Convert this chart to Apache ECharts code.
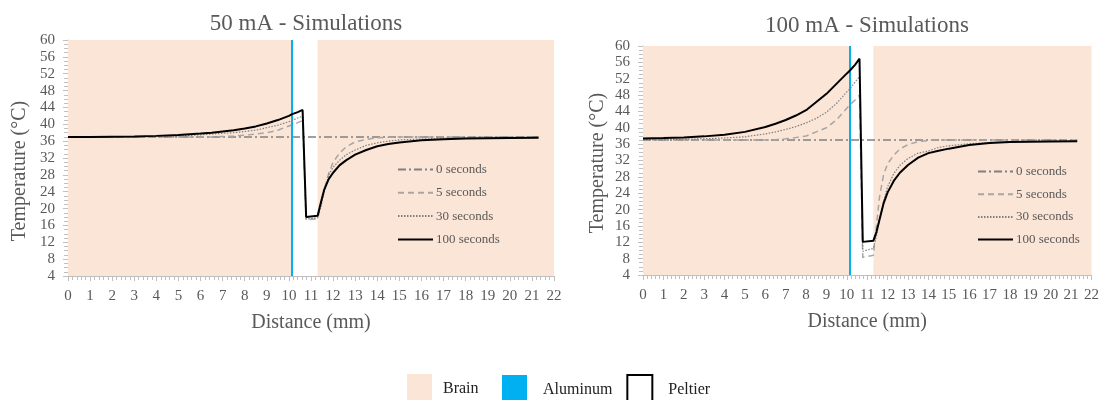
<!DOCTYPE html>
<html>
<head>
<meta charset="utf-8">
<script src="https://cdn.jsdelivr.net/npm/echarts@6/dist/echarts.min.js"></script>
<style>
html,body{margin:0;padding:0;background:#fff;}
#chart{width:1102px;height:400px;}
</style>
</head>
<body>
<div id="chart"></div>
<script>
// ---- data ----
const distance = [0, 1, 2, 3, 4, 5, 6, 6.5, 7, 7.5, 8, 8.5, 9, 9.5, 10, 10.15, 10.4, 10.62, 10.78, 11.3, 11.45, 11.6, 11.8, 12, 12.3, 12.6, 13, 13.5, 14, 14.5, 15, 16, 17, 18, 19, 20, 21.3];

const t50_0s   = [37,37,37,37,37,37,37,37,37,37,37,37,37,37,37,37,37,37,37,37,37,37,37,37,37,37,37,37,37,37,37,37,37,37,37,37,37];
const t50_5s   = [37,37,37,37,37,37,37,37,37.1,37.2,37.4,37.7,38.0,38.6,39.6,39.9,40.4,40.9,17.3,17.6,21.0,24.5,28.3,31.0,33.2,34.7,35.8,36.4,36.8,36.9,37,37,37,37,37,37,37];
const t50_30s  = [37,37,37,37.05,37.1,37.25,37.5,37.7,37.85,38.0,38.3,38.6,39.2,39.8,40.6,40.9,41.5,41.9,17.5,17.8,20.5,24.0,28.0,29.8,31.5,32.8,33.9,35.0,35.6,36.0,36.3,36.5,36.7,36.8,36.85,36.9,36.9];
const t50_100s = [37,37,37.05,37.1,37.25,37.45,37.8,38.0,38.3,38.6,39.0,39.5,40.2,41.0,42.0,42.4,42.9,43.4,18.0,18.3,21.5,24.5,27.0,28.5,30.3,31.5,32.8,33.9,34.8,35.3,35.7,36.2,36.45,36.6,36.7,36.75,36.8];

const t100_0s   = [37,37,37,37,37,37,37,37,37,37,37,37,37,37,37,37,37,37,37,37,37,37,37,37,37,37,37,37,37,37,37,37,37,37,37,37,37];
const t100_5s   = [37,37,37,37,37,37,37,37.1,37.3,37.6,38.0,39.0,40.0,42.0,44.8,45.6,46.8,48.0,8.3,8.8,16.0,23.0,28.5,31.2,33.3,34.8,35.9,36.6,36.9,37,37,37,37,37,37,37,37];
const t100_30s  = [37.1,37.1,37.2,37.3,37.5,37.8,38.5,39.0,39.6,40.3,41.2,42.3,43.8,46.0,48.8,49.5,51.2,52.5,9.8,10.5,13.5,17.5,22.0,25.6,28.8,30.8,32.5,33.8,34.3,35.2,35.6,36.1,36.4,36.6,36.7,36.75,36.8];
const t100_100s = [37.4,37.5,37.65,37.9,38.3,39.0,40.2,41.0,41.9,43.0,44.3,46.3,48.3,50.8,53.3,54.0,55.4,56.9,12.1,12.4,14.5,17.5,21.5,24.2,27.0,29.0,30.9,32.7,33.8,34.4,34.9,35.8,36.3,36.5,36.6,36.65,36.7];

const timeNames = ['0 seconds', '5 seconds', '30 seconds', '100 seconds'];
const brainZones = [[0, 10.15], [11.3, 22]];
const aluminumAt = 10.15;
const chartTitles = ['50 mA - Simulations', '100 mA - Simulations'];
const xAxisName = 'Distance (mm)';
const yAxisName = 'Temperature (°C)';

// ---- styles ----
const FONT = 'Liberation Serif';
const GRAY = '#595959';
const lineStyles = [
  {color: '#808080', width: 1.5, type: [8, 3, 2, 3]},
  {color: '#a6a6a6', width: 1.5, type: [6, 4]},
  {color: '#7f7f7f', width: 1.2, type: [1.5, 1.5]},
  {color: '#000000', width: 2, type: 'solid'}
];

function pairs(arr) { return distance.map((d, i) => [d, arr[i]]); }

const seriesSets = [[t50_0s, t50_5s, t50_30s, t50_100s], [t100_0s, t100_5s, t100_30s, t100_100s]];

const grids = [
  {left: 68, top: 40, width: 486, height: 236},
  {left: 643, top: 46, width: 451, height: 229}
];

function xAxisFor(i) {
  return {
    type: 'value', gridIndex: i, min: 0, max: 22, interval: 1,
    name: xAxisName, nameLocation: 'middle', nameGap: 37,
    nameTextStyle: {fontFamily: FONT, fontSize: 20, color: GRAY},
    axisLine: {show: true, lineStyle: {color: '#bfbfbf', width: 1}},
    axisTick: {show: true, length: 5, lineStyle: {color: '#bfbfbf'}},
    minorTick: {show: true, splitNumber: 5, length: 4, lineStyle: {color: '#bfbfbf'}},
    splitLine: {show: false},
    axisLabel: {fontFamily: FONT, fontSize: 15, color: GRAY, margin: 13}
  };
}
function yAxisFor(i) {
  return {
    type: 'value', gridIndex: i, min: 4, max: 60, interval: 4,
    axisLine: {show: true, lineStyle: {color: '#bfbfbf', width: 1}},
    axisTick: {show: true, length: 5, lineStyle: {color: '#bfbfbf'}},
    minorTick: {show: true, splitNumber: 4, length: 4, lineStyle: {color: '#bfbfbf'}},
    splitLine: {show: false},
    axisLabel: {fontFamily: FONT, fontSize: 15, color: GRAY, margin: 13}
  };
}

const series = [];
for (let g = 0; g < 2; g++) {
  series.push({
    name: 'Brain', type: 'line', xAxisIndex: g, yAxisIndex: g, data: [], z: 1,
    itemStyle: {color: '#FBE5D6'},
    markArea: {
      silent: true,
      itemStyle: {color: '#FBE5D6', opacity: 1},
      data: brainZones.map(z => [{xAxis: z[0], yAxis: 4}, {xAxis: z[1], yAxis: 60}])
    }
  });
  series.push({
    name: 'Peltier', type: 'line', xAxisIndex: g, yAxisIndex: g, data: [], z: 1,
    itemStyle: {color: '#ffffff', borderColor: '#000000', borderWidth: 2}
  });
  seriesSets[g].forEach((arr, k) => {
    series.push({
      name: timeNames[k], type: 'line', xAxisIndex: g, yAxisIndex: g,
      data: pairs(arr), symbol: 'none', smooth: false, z: 3 + k,
      lineStyle: lineStyles[k], itemStyle: {color: lineStyles[k].color}
    });
  });
  series.push({
    name: 'Aluminum', type: 'line', xAxisIndex: g, yAxisIndex: g, data: [], z: 2,
    itemStyle: {color: '#00B0F0'},
    markLine: {
      silent: true, symbol: ['none', 'none'], animation: false,
      label: {show: false},
      lineStyle: {color: '#00B0F0', width: 2, type: 'solid'},
      data: [{xAxis: aluminumAt}]
    }
  });
}

const innerLegend = (left, top, gap) => ({
  orient: 'vertical', left: left, top: top, itemGap: gap, selectedMode: false,
  padding: 0, itemWidth: 35, itemHeight: 14,
  itemStyle: {opacity: 0},
  data: timeNames,
  textStyle: {fontFamily: FONT, fontSize: 13, color: GRAY, padding: [0, 0, 0, -2]}
});

const bottomLegend = (left, items) => ({
  left: left, top: 374, padding: 0, itemWidth: 25, itemHeight: 30, itemGap: 14, selectedMode: false,
  data: items,
  textStyle: {fontFamily: FONT, fontSize: 16, color: '#222222', padding: [0, 0, 0, 11]}
});

const option = {
  animation: false,
  backgroundColor: '#ffffff',
  title: [
    {text: chartTitles[0], left: 301, top: 7, textAlign: 'center',
     textStyle: {fontFamily: FONT, fontSize: 23, fontWeight: 'normal', color: GRAY}},
    {text: chartTitles[1], left: 862, top: 9, textAlign: 'center',
     textStyle: {fontFamily: FONT, fontSize: 23, fontWeight: 'normal', color: GRAY}}
  ],
  grid: grids,
  xAxis: [xAxisFor(0), xAxisFor(1)],
  yAxis: [yAxisFor(0), yAxisFor(1)],
  legend: [
    innerLegend(397, 163, 10.3),
    innerLegend(977, 165, 9.7),
    bottomLegend(407, [
      {name: 'Brain', icon: 'rect', itemStyle: {color: '#FBE5D6', borderWidth: 0},
       textStyle: {padding: [0, 0, 0, 6]}}
    ]),
    bottomLegend(502, [
      {name: 'Aluminum', icon: 'rect', itemStyle: {color: '#00B0F0', borderWidth: 0}},
      {name: 'Peltier', icon: 'rect', itemStyle: {color: '#ffffff', borderColor: '#000000', borderWidth: 2}}
    ])
  ],
  graphic: [
    {type: 'text', x: 20, y: 171, rotation: Math.PI / 2,
     style: {text: yAxisName, font: '20px "Liberation Serif"', fill: GRAY, align: 'center', verticalAlign: 'middle'}},
    {type: 'text', x: 598, y: 163, rotation: Math.PI / 2,
     style: {text: yAxisName, font: '20px "Liberation Serif"', fill: GRAY, align: 'center', verticalAlign: 'middle'}}
  ],
  series: series
};

const chart = echarts.init(document.getElementById('chart'), null, {renderer: 'canvas'});
chart.setOption(option);
</script>
</body>
</html>
